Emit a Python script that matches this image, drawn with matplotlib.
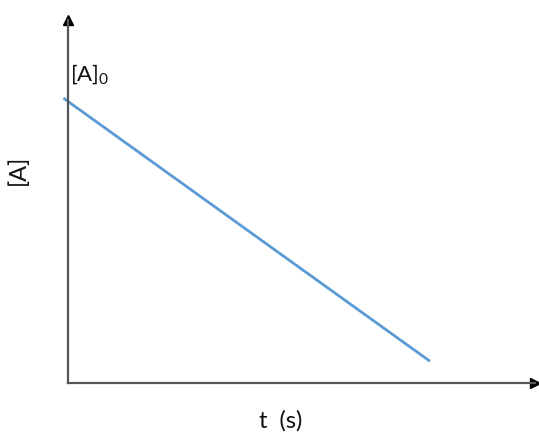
import matplotlib

matplotlib.use("Agg")
import matplotlib.pyplot as plt

# zero-order decay: [A] falls linearly with time
t_vals = [-0.1, 7.75]
conc_vals = [7.85, 0.6]
a0_label = "[A]$_\\mathregular{0}$"
x_label = "t  (s)"
y_label = "[A]"

plt.rcParams["font.family"] = ["Lato", "DejaVu Sans"]
plt.rcParams["mathtext.fontset"] = "custom"
plt.rcParams["mathtext.rm"] = "Lato"

W, H = 539, 437
fig = plt.figure(figsize=(W / 100, H / 100), dpi=100)
# axes box spans the drawn arrows: origin at (68, 383) px, tips at x=535, y=20
ax = fig.add_axes([68 / W, 1 - 383 / H, (535 - 68) / W, (383 - 20) / H])
ax.set_xlim(0, 10)
ax.set_ylim(0, 10)

ax.plot(t_vals, conc_vals, color="#5b9bd5", lw=2, solid_capstyle="butt", clip_on=False)

for side in ("top", "right"):
    ax.spines[side].set_visible(False)
for side in ("left", "bottom"):
    ax.spines[side].set_color("#555555")
    ax.spines[side].set_linewidth(1.6)
ax.set_xticks([])
ax.set_yticks([])

# arrow heads at the end of each axis
ax.plot(1, 0, ">", color="black", ms=7, transform=ax.transAxes, clip_on=False)
ax.plot(0, 1, "^", color="black", ms=7, transform=ax.transAxes, clip_on=False)

ax.text(0.05, conc_vals[0] + 0.3, a0_label, fontsize=16, color="#111111",
        ha="left", va="bottom")
fig.text(281 / W, 1 - 421 / H, x_label, fontsize=17, color="#111111",
         ha="center", va="center")
fig.text(18 / W, 1 - 170 / H, y_label, fontsize=17, color="#111111",
         ha="center", va="center", rotation=90)

fig.savefig("out.png", dpi=100, facecolor="white")
